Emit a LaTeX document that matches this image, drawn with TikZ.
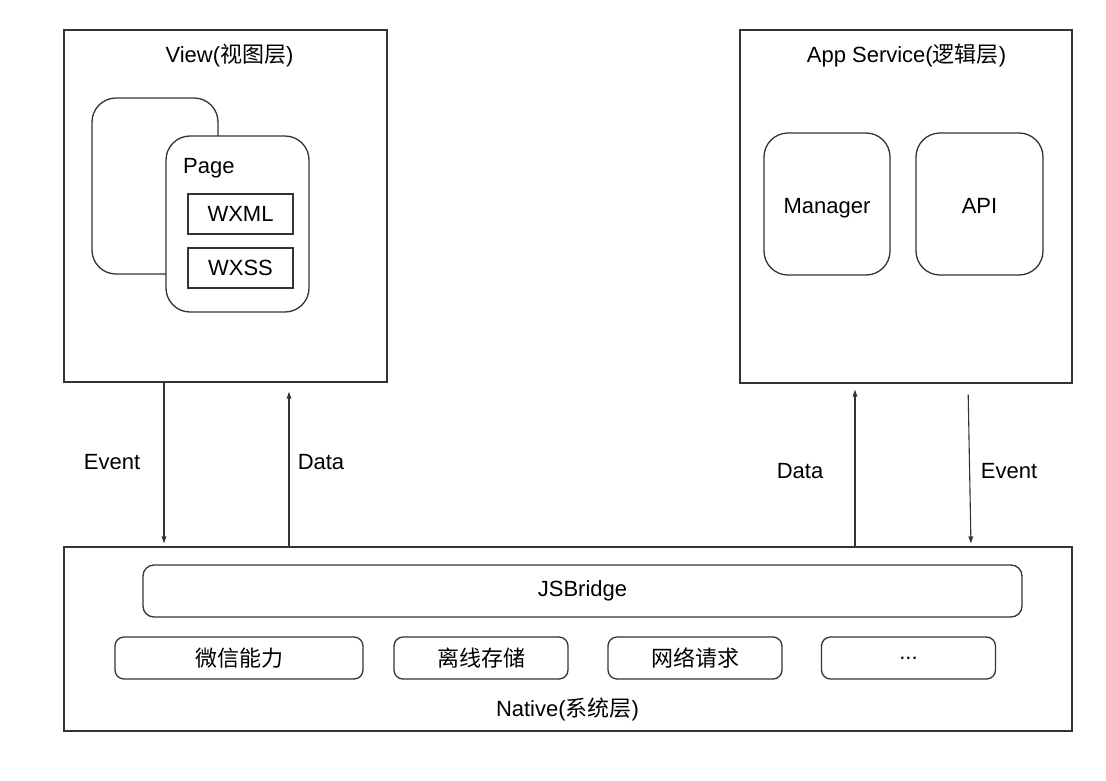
\documentclass[tikz,border=0pt]{standalone}
\usepackage{fontspec}
\setmainfont{Liberation Sans}
\newfontfamily\cjk{Noto Sans CJK SC}
\usetikzlibrary{arrows.meta}
\definecolor{lc}{HTML}{333333}
\begin{document}
\begin{tikzpicture}[x=1pt,y=-1pt,
  every node/.style={font=\fontsize{22}{26}\selectfont, inner sep=0pt, text=black},
  frame/.style={draw=lc, line width=1.3pt},
  rbox/.style={frame, rounded corners=24pt},
  sbox/.style={frame, rounded corners=9pt},
  arr/.style={draw=lc, line width=1.1pt, -{Triangle[length=7pt,width=4.5pt]}},
  lowtext/.style={text height=18pt, text depth=0pt}
]
\useasboundingbox[fill=white] (0,0) rectangle (1106,780);

% View layer
\node[frame, minimum width=323pt, minimum height=352pt] (view) at (225.5,206) {};
\node (viewt) at (229.5,56) {View({\cjk 视图层})};
\node[rbox, minimum width=126pt, minimum height=176pt] (back) at (155,186) {};
\node[rbox, fill=white, minimum width=143pt, minimum height=176pt] (page) at (237.5,224) {};
\node[anchor=west] (paget) at (183,168) {Page};
\node[frame, minimum width=105pt, minimum height=40pt] (wxml) at (240.5,214) {WXML};
\node[frame, minimum width=105pt, minimum height=40pt] (wxss) at (240.5,268) {WXSS};

% App Service layer
\node[frame, minimum width=332pt, minimum height=353pt] (app) at (906,206.5) {};
\node (appt) at (906.5,56) {App Service({\cjk 逻辑层})};
\node[rbox, lowtext, minimum width=126pt, minimum height=142pt] (mgr) at (827,204) {Manager};
\node[rbox, lowtext, minimum width=127pt, minimum height=142pt] (api) at (979.5,204) {API};

% Native layer
\node[frame, minimum width=1008pt, minimum height=184pt] (native) at (568,639) {};
\node[sbox, rounded corners=11pt, minimum width=879pt, minimum height=52pt] (jsb) at (582.5,591) {JSBridge};
\node[sbox, minimum width=248pt, minimum height=42pt] (wx) at (239,658) {\cjk 微信能力};
\node[sbox, minimum width=174pt, minimum height=42pt] (off) at (481,658) {\cjk 离线存储};
\node[sbox, minimum width=174pt, minimum height=42pt] (net) at (695,658) {\cjk 网络请求};
\node[sbox, minimum width=174pt, minimum height=42pt] (more) at (908.5,658) {...};
\node (nativet) at (567.5,709) {Native({\cjk 系统层})};

% connectors
\coordinate (evL) at (164,0);
\coordinate (daL) at (289,0);
\coordinate (daR) at (855,0);
\coordinate (evRt) at (968,0);
\coordinate (evRb) at (971,0);
\draw[arr, shorten >=3pt] (view.south -| evL) -- (native.north -| evL);
\draw[arr, shorten >=9pt] (native.north -| daL) -- (view.south -| daL);
\draw[arr, shorten >=6pt] (native.north -| daR) -- (app.south -| daR);
\draw[arr, shorten <=11pt, shorten >=3pt] (app.south -| evRt) -- (native.north -| evRb);

\node (evLt) at (112,462) {Event};
\node (daLt) at (321,462) {Data};
\node (daRt) at (800,471) {Data};
\node (evRt2) at (1009,471) {Event};
\end{tikzpicture}
\end{document}
